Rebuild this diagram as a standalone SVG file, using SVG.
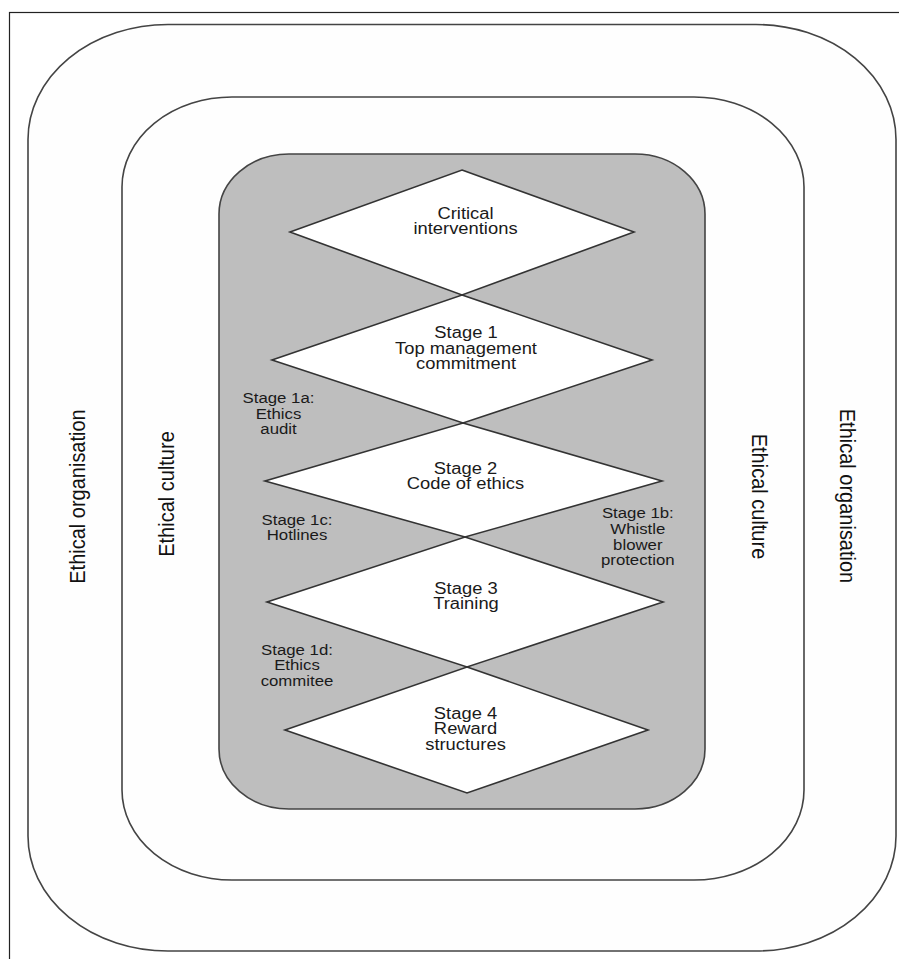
<svg xmlns="http://www.w3.org/2000/svg" width="899" height="959" viewBox="0 0 899 959">
<style>
.frame{fill:#fff;stroke:#222;stroke-width:1.2}
.ring{fill:#fefefe;stroke:#444;stroke-width:1.6}
.core{fill:#bebebe;stroke:#444;stroke-width:1.6}
.dia{fill:#fff;stroke:#333;stroke-width:1.6;stroke-linejoin:miter}
.t{font-family:"Liberation Sans",Arial,sans-serif;font-size:16.4px;fill:#1a1a1a;text-anchor:middle}
.s{font-family:"Liberation Sans",Arial,sans-serif;font-size:15px;fill:#1a1a1a;text-anchor:middle}
.side{font-family:"Liberation Sans",Arial,sans-serif;font-size:20px;fill:#111;text-anchor:middle}
</style>
<rect x="0" y="0" width="899" height="959" fill="#fff"/>
<rect class="frame" x="9.5" y="12.5" width="900" height="960"/>
<g id="ethical-organisation">
<rect class="ring" x="28" y="24.5" width="868" height="926.5" rx="140" ry="115"/>
<text class="side" transform="translate(85,496.5) scale(1.12,1) rotate(-90)">Ethical organisation</text>
<text class="side" transform="translate(840,496) scale(1.12,1) rotate(90)">Ethical organisation</text>
</g>
<g id="ethical-culture">
<rect class="ring" x="122" y="97" width="682" height="783" rx="110" ry="90"/>
<text class="side" transform="translate(173.5,494) scale(1.12,1) rotate(-90)">Ethical culture</text>
<text class="side" transform="translate(752,496.5) scale(1.12,1) rotate(90)">Ethical culture</text>
</g>
<g id="core">
<rect class="core" x="219" y="154" width="486" height="655" rx="70" ry="60"/>
</g>
<g id="critical-interventions">
<polygon class="dia" points="462,170 634,232 462,295 290,232"/>
<text class="t" transform="translate(465.5,219.3) scale(1.12,1)"><tspan x="0">Critical</tspan><tspan x="0" dy="15">interventions</tspan></text>
</g>
<g id="stage1">
<polygon class="dia" points="462,295 652,360 463,423 272,360"/>
<text class="t" transform="translate(466,338.3) scale(1.12,1)"><tspan x="0">Stage 1</tspan><tspan x="0" dy="15.5">Top management</tspan><tspan x="0" dy="15.5">commitment</tspan></text>
</g>
<g id="stage2">
<polygon class="dia" points="463,423 662,481 465,537 265,481"/>
<text class="t" transform="translate(465.5,474.3) scale(1.12,1)"><tspan x="0">Stage 2</tspan><tspan x="0" dy="15">Code of ethics</tspan></text>
</g>
<g id="stage3">
<polygon class="dia" points="465,537 663,602 467,667 267,602"/>
<text class="t" transform="translate(466,594) scale(1.12,1)"><tspan x="0">Stage 3</tspan><tspan x="0" dy="15.3">Training</tspan></text>
</g>
<g id="stage4">
<polygon class="dia" points="467,667 648,730 467,793 285,730"/>
<text class="t" transform="translate(465.5,719) scale(1.12,1)"><tspan x="0">Stage 4</tspan><tspan x="0" dy="15.5">Reward</tspan><tspan x="0" dy="15.5">structures</tspan></text>
</g>
<g id="stage1a">
<text class="s" transform="translate(278.5,403.3) scale(1.12,1)"><tspan x="0">Stage 1a:</tspan><tspan x="0" dy="15.5">Ethics</tspan><tspan x="0" dy="15.5">audit</tspan></text>
</g>
<g id="stage1b">
<text class="s" transform="translate(637.8,518.3) scale(1.12,1)"><tspan x="0">Stage 1b:</tspan><tspan x="0" dy="15.5">Whistle</tspan><tspan x="0" dy="15.8">blower</tspan><tspan x="0" dy="15.3">protection</tspan></text>
</g>
<g id="stage1c">
<text class="s" transform="translate(297,525) scale(1.12,1)"><tspan x="0">Stage 1c:</tspan><tspan x="0" dy="15.2">Hotlines</tspan></text>
</g>
<g id="stage1d">
<text class="s" transform="translate(297,655) scale(1.12,1)"><tspan x="0">Stage 1d:</tspan><tspan x="0" dy="15.3">Ethics</tspan><tspan x="0" dy="15.5">commitee</tspan></text>
</g>
</svg>
